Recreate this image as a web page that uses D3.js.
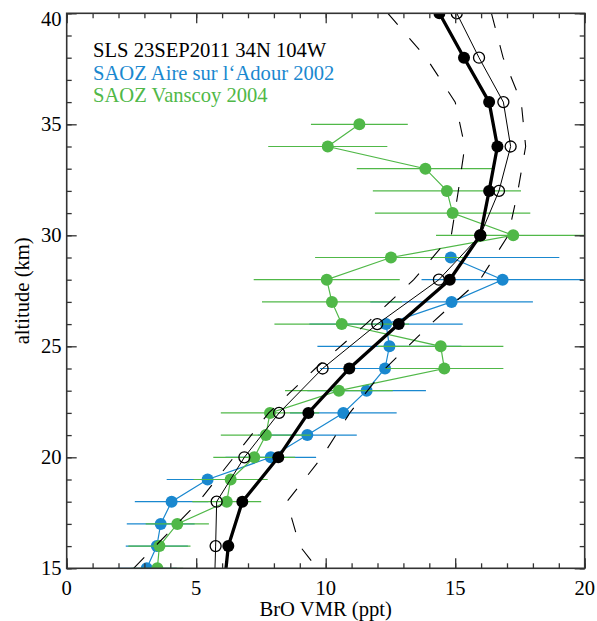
<!DOCTYPE html>
<html>
<head>
<meta charset="utf-8">
<script src="https://cdn.jsdelivr.net/npm/d3@7"></script>
<style>
  html, body { margin: 0; padding: 0; background: #fff; }
  svg { display: block; }
  text { font-family: "Liberation Serif", "Times New Roman", serif; }
</style>
</head>
<body>
<svg id="chart" width="597" height="621"></svg>
<script>
// BrO volume mixing ratio profiles (ppt) versus altitude (km)

// SLS balloon retrieval, 23 Sep 2011 (filled circles, thick line)
const slsAlt = [40, 38, 36, 34, 32, 30, 28, 26, 24, 22, 20, 18, 16, 14];
const slsBrO = [14.39, 15.34, 16.31, 16.63, 16.31, 15.97, 14.79, 12.82, 10.91, 9.33, 8.17, 6.78, 6.24, 6.06];

// Second SLS profile (open circles, thin line)
const slsOpenBrO = [15.06, 15.92, 16.86, 17.14, 16.69, 15.97, 14.37, 11.99, 9.88, 8.2, 6.86, 5.79, 5.75, 5.7];

// Uncertainty envelope of the SLS profile (dashed)
const slsLowBrO  = [12.4, 13.88, 15.0, 15.37, 15.12, 14.85, 13.4, 11.55, 9.6, 7.8, 6.45, 5.1, 3.42, 1.75];
const slsHighBrO = [16.4, 16.85, 17.55, 17.72, 17.42, 17.05, 15.96, 14.05, 12.3, 10.93, 9.85, 8.5, 9.0, 10.35];

// SAOZ Aire sur l'Adour 2002
const aireAlt = [29, 28, 27, 26, 25, 24, 23, 22, 21, 20, 19, 18, 17, 16, 15];
const aireBrO = [14.83, 16.83, 14.86, 12.33, 12.46, 12.29, 11.58, 10.68, 9.29, 7.88, 5.44, 4.05, 3.63, 3.48, 3.09];
const aireErr = [4.19, 3.13, 3.14, 2.96, 2.78, 2.51, 2.29, 2.06, 1.91, 1.75, 1.58, 1.42, 1.31, 1.2, 1.16];

// SAOZ Vanscoy 2004
const vanAlt = [35, 34, 33, 32, 31, 30, 29, 28, 27, 26, 25, 24, 23, 22, 21, 20, 19, 18, 17, 16, 15];
const vanBrO = [11.3, 10.08, 13.85, 14.68, 14.9, 17.24, 12.52, 10.04, 10.24, 10.62, 14.44, 14.58, 10.51, 7.85, 7.69, 7.24, 6.33, 6.18, 4.27, 3.58, 3.5];
const vanErr = [1.87, 2.3, 2.65, 2.86, 3.0, 2.98, 2.93, 2.82, 2.7, 2.6, 2.42, 2.28, 2.08, 1.9, 1.74, 1.58, 1.43, 1.33, 1.22, 1.2, 1.0];

// Axis ticks
const xMajor = [0, 5, 10, 15, 20];
const yMajor = [15, 20, 25, 30, 35, 40];
const xMinor = d3.range(0, 21, 1);
const yMinor = d3.range(15, 41, 1);

const legendLines = [
  { text: "SLS 23SEP2011 34N 104W", color: "#000000" },
  { text: "SAOZ Aire sur l\u2018Adour 2002", color: "#1a88cf" },
  { text: "SAOZ Vanscoy 2004", color: "#50b848" }
];

const BLUE = "#1a88cf", GREEN = "#50b848";
const FONT = 20.6;

const svg = d3.select("#chart");
const plotLeft = 66.7, plotRight = 584.7, plotTop = 13.3, plotBottom = 568.3;

const x = d3.scaleLinear().domain([0, 20]).range([plotLeft, plotRight]);
const y = d3.scaleLinear().domain([15, 40]).range([plotBottom, plotTop]);

svg.append("defs").append("clipPath").attr("id", "plotClip")
  .append("rect").attr("x", plotLeft).attr("y", plotTop)
  .attr("width", plotRight - plotLeft).attr("height", plotBottom - plotTop);

const plot = svg.append("g").attr("clip-path", "url(#plotClip)");

const zip = (alts, vals) => alts.map((a, i) => ({ alt: a, v: vals[i] }));
const line = d3.line().x(d => x(d.v)).y(d => y(d.alt));

// SAOZ profiles with horizontal error bars
function drawSaoz(alts, vals, errs, color) {
  const data = alts.map((a, i) => ({ alt: a, v: vals[i], e: errs[i] }));
  const g = plot.append("g");
  g.selectAll("line.err").data(data).enter().append("line")
    .attr("x1", d => x(d.v - d.e)).attr("x2", d => x(d.v + d.e))
    .attr("y1", d => y(d.alt)).attr("y2", d => y(d.alt))
    .attr("stroke", color).attr("stroke-width", 1.2);
  g.append("path").datum(data).attr("d", line)
    .attr("fill", "none").attr("stroke", color).attr("stroke-width", 1.2);
  g.selectAll("circle").data(data).enter().append("circle")
    .attr("cx", d => x(d.v)).attr("cy", d => y(d.alt)).attr("r", 6)
    .attr("fill", color);
}
drawSaoz(aireAlt, aireBrO, aireErr, BLUE);
drawSaoz(vanAlt, vanBrO, vanErr, GREEN);

// SLS envelope
[slsLowBrO, slsHighBrO].forEach(vals => {
  plot.append("path").datum(zip(slsAlt, vals)).attr("d", line)
    .attr("fill", "none").attr("stroke", "#000").attr("stroke-width", 1.1)
    .attr("stroke-dasharray", "15,18");
});

// Open-circle profile
const openData = zip(slsAlt, slsOpenBrO);
plot.append("path").datum(openData).attr("d", line)
  .attr("fill", "none").attr("stroke", "#000").attr("stroke-width", 1);
plot.selectAll("circle.open").data(openData).enter().append("circle")
  .attr("class", "open")
  .attr("cx", d => x(d.v)).attr("cy", d => y(d.alt)).attr("r", 5.5)
  .attr("fill", "none").attr("stroke", "#000").attr("stroke-width", 1.3);

// Filled-circle profile
const slsData = zip(slsAlt, slsBrO);
plot.append("path").datum(slsData).attr("d", line)
  .attr("fill", "none").attr("stroke", "#000").attr("stroke-width", 3.3)
  .attr("stroke-linejoin", "round");
plot.selectAll("circle.sls").data(slsData).enter().append("circle")
  .attr("class", "sls")
  .attr("cx", d => x(d.v)).attr("cy", d => y(d.alt)).attr("r", 6)
  .attr("fill", "#000");

// Frame ticks on all four sides, pointing inward
function ticks(axisFn, scale, values, size, transform) {
  const g = svg.append("g").attr("transform", transform)
    .call(axisFn(scale).tickValues(values).tickSize(size).tickFormat(""));
  g.select(".domain").remove();
  g.selectAll(".tick line").attr("stroke", "#333").attr("stroke-width", 1.3);
}
ticks(d3.axisTop, x, xMinor, 5, `translate(0,${plotBottom})`);
ticks(d3.axisTop, x, xMajor, 10, `translate(0,${plotBottom})`);
ticks(d3.axisBottom, x, xMinor, 5, `translate(0,${plotTop})`);
ticks(d3.axisBottom, x, xMajor, 10, `translate(0,${plotTop})`);
ticks(d3.axisRight, y, yMinor, 5, `translate(${plotLeft},0)`);
ticks(d3.axisRight, y, yMajor, 10, `translate(${plotLeft},0)`);
ticks(d3.axisLeft, y, yMinor, 5, `translate(${plotRight},0)`);
ticks(d3.axisLeft, y, yMajor, 10, `translate(${plotRight},0)`);

svg.append("rect").attr("x", plotLeft).attr("y", plotTop)
  .attr("width", plotRight - plotLeft).attr("height", plotBottom - plotTop)
  .attr("fill", "none").attr("stroke", "#333").attr("stroke-width", 1.6);

// Tick labels
svg.selectAll("text.xl").data(xMajor).enter().append("text")
  .attr("x", d => x(d)).attr("y", 595)
  .attr("text-anchor", "middle").attr("font-size", FONT).text(d => d);
svg.selectAll("text.yl").data(yMajor).enter().append("text")
  .attr("x", 61.5).attr("y", d => Math.max(y(d), plotTop + 5.5) + 7)
  .attr("text-anchor", "end").attr("font-size", FONT).text(d => d);

// Axis titles
svg.append("text").attr("x", (plotLeft + plotRight) / 2).attr("y", 616)
  .attr("text-anchor", "middle").attr("font-size", FONT).text("BrO VMR (ppt)");
svg.append("text")
  .attr("transform", `translate(29,${(plotTop + plotBottom) / 2}) rotate(-90)`)
  .attr("text-anchor", "middle").attr("font-size", FONT).text("altitude (km)");

// Legend
svg.selectAll("text.leg").data(legendLines).enter().append("text")
  .attr("x", 93).attr("y", (d, i) => 57 + i * 22.5)
  .attr("font-size", FONT).attr("fill", d => d.color).text(d => d.text);
</script>
</body>
</html>
